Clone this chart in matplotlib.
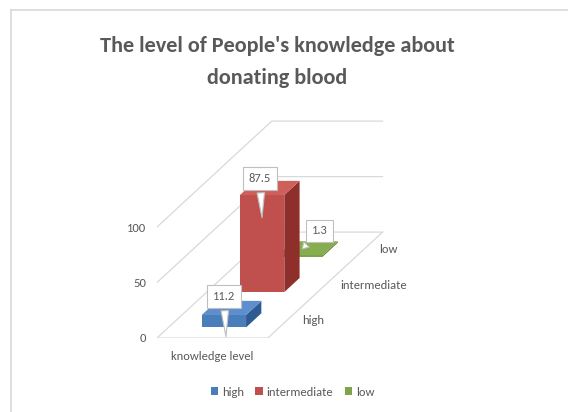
import matplotlib
matplotlib.use("Agg")
import matplotlib.pyplot as plt
from matplotlib.patches import Polygon
from matplotlib.lines import Line2D

plt.rcParams['font.family'] = ['Carlito', 'DejaVu Sans']

# data
category = "knowledge level"
series = ["high", "intermediate", "low"]
values = [11.2, 87.5, 1.3]
yticks = [0, 50, 100]

# style
front_col = ["#4a7ebb", "#c0504d", "#7ea34a"]
top_col = ["#5d8fcf", "#cf5f5b", "#86ad4e"]
side_col = ["#2f5b93", "#8e2f2c", "#5a7a30"]
text_col = "#595959"
grid_col = "#d9d9d9"

# oblique depth step per series row (x in category units, z in value units)
kx = 0.345
kz = 31.8
n = len(series)
bx0, bx1 = 0.3, 0.7      # bar extent across the category
bd = 0.4                 # bar depth (fraction of a row)

fig = plt.figure(figsize=(5.68, 4.12), dpi=100)
W, H = 568, 412
ax = fig.add_axes([157 / W, 74 / H, 266 / W, 222 / H])
ax.set_xlim(0, 2.4)
ax.set_ylim(0, 200)
for s in ax.spines.values():
    s.set_visible(False)

# chart border
fig.add_artist(Line2D([10.5 / W, 1], [1 - 9.5 / H, 1 - 9.5 / H], color=grid_col, lw=1.2))
fig.add_artist(Line2D([10.5 / W, 10.5 / W], [0, 1 - 9.5 / H], color=grid_col, lw=1.2))

# walls and floor
back_x = n * kx
back_z = n * kz
for v in yticks:
    ax.plot([0, back_x, 1 + back_x], [v, v + back_z, v + back_z], color=grid_col, lw=0.9, zorder=0)
ax.plot([0, 1, 1 + back_x], [0, 0, back_z], color=grid_col, lw=0.9, zorder=0)

# bars, back row first
bars = {}
for i in reversed(range(n)):
    v = values[i]
    d0 = i + (1 - bd) / 2
    x0, x1 = bx0 + d0 * kx, bx1 + d0 * kx
    z0 = d0 * kz
    dx, dz = bd * kx, bd * kz
    side = Polygon([(x1, z0), (x1 + dx, z0 + dz), (x1 + dx, z0 + dz + v), (x1, z0 + v)],
                   closed=True, fc=side_col[i], ec="none", zorder=2 + 3 * (n - i))
    top = Polygon([(x0, z0 + v), (x1, z0 + v), (x1 + dx, z0 + dz + v), (x0 + dx, z0 + dz + v)],
                  closed=True, fc=top_col[i], ec="none", zorder=2 + 3 * (n - i))
    ax.add_patch(side)
    ax.add_patch(top)
    bars[i] = ax.bar((x0 + x1) / 2, v, width=bx1 - bx0, bottom=z0, color=front_col[i],
                     zorder=3 + 3 * (n - i), label=series[i])

# data labels (callouts)
tip_dz = [-22, -23, 4]
tip_dx = [0.02, 0.0, 0.0]
text_off = [(-2, 43), (-2, 42), (19, 20)]
for i in range(n):
    d0 = i + (1 - bd) / 2
    cx = (bx0 + bx1) / 2 + d0 * kx + tip_dx[i]
    tz = d0 * kz + values[i] + tip_dz[i]
    ax.annotate(f"{values[i]}", xy=(cx, tz), xytext=text_off[i], textcoords="offset pixels",
                ha="center", va="center", fontsize=9, color=text_col, zorder=20,
                annotation_clip=False,
                bbox=dict(boxstyle="square,pad=0.45", fc="white", ec="#bfbfbf", lw=0.8),
                arrowprops=dict(arrowstyle="wedge,tail_width=0.6,shrink_factor=0.5",
                                fc="white", ec="#bfbfbf", lw=0.8))

# depth labels
for i, name in enumerate(series):
    ax.text(1 + (i + 0.5) * kx + 0.14, (i + 0.5) * kz, name, ha="left", va="center",
            fontsize=9, color=text_col)

ax.set_yticks(yticks)
ax.set_yticklabels([str(t) for t in yticks])
ax.set_xticks([0.5])
ax.set_xticklabels([category])
ax.tick_params(axis="both", length=0, labelsize=9, labelcolor=text_col)
ax.tick_params(axis="y", pad=8)
ax.tick_params(axis="x", pad=9)

fig.text(0.488, 1 - 62 / H, "The level of People's knowledge about\ndonating blood",
         ha="center", va="center", fontsize=16, fontweight="bold", color=text_col,
         linespacing=1.75)

handles = [bars[i].patches[0] for i in range(n)]
fig.legend(handles, series, loc="center", bbox_to_anchor=(0.515, 1 - 392 / H), ncol=3,
           frameon=False, fontsize=9, labelcolor=text_col, handlelength=0.6, handleheight=0.6,
           handletextpad=0.3, columnspacing=0.9)

fig.savefig("out.png")
